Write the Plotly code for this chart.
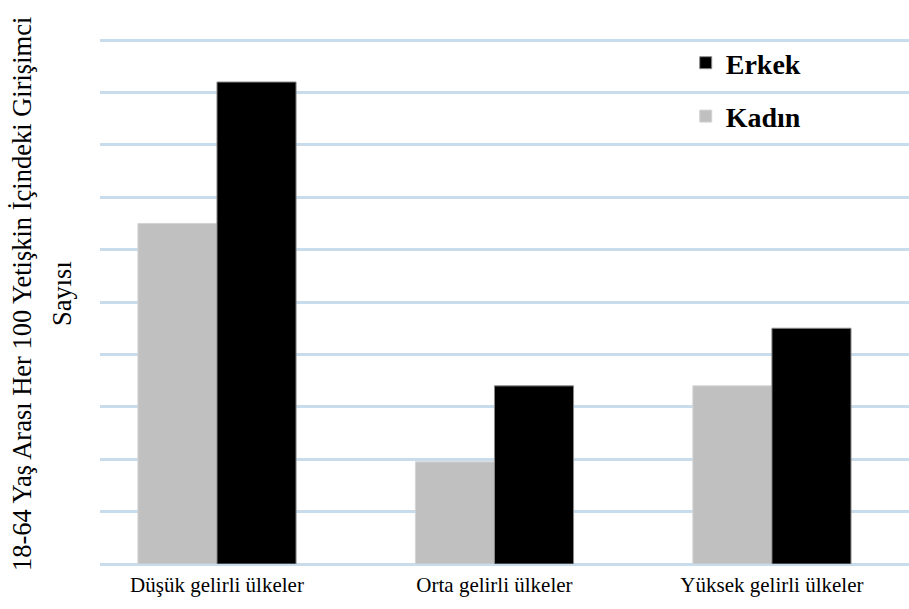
import plotly.graph_objects as go

categories = ["Düşük gelirli ülkeler", "Orta gelirli ülkeler", "Yüksek gelirli ülkeler"]
kadin = [6.5, 1.95, 3.4]
erkek = [9.2, 3.4, 4.5]
y_title_line1 = "18-64 Yaş Arası Her 100 Yetişkin İçindeki Girişimci"
y_title_line2 = "Sayısı"

SERIF = "Liberation Serif"
GRID = "#c8dcec"

fig = go.Figure()
fig.add_trace(go.Bar(
    x=categories, y=kadin, name="Kadın", legendgroup="k", legendrank=2,
    marker=dict(color="#c0c0c0", line=dict(color="#d4d4d4", width=1)),
))
fig.add_trace(go.Bar(
    x=categories, y=erkek, name="Erkek", legendgroup="e", legendrank=1,
    marker=dict(color="#000000", line=dict(color="#8a8a8a", width=1)),
))

fig.update_layout(
    width=909, height=609,
    margin=dict(l=100, r=0, t=38, b=45),
    paper_bgcolor="white", plot_bgcolor="white",
    barmode="group", bargap=0.43, bargroupgap=0,
    showlegend=True,
    legend=dict(
        x=0.724, y=1.0, xanchor="left", yanchor="top",
        traceorder="grouped", tracegroupgap=14,
        font=dict(family=SERIF, size=28, color="black", weight="bold"),
        bgcolor="rgba(0,0,0,0)",
    ),
    xaxis=dict(
        range=[-0.4216, 2.494], showgrid=False, zeroline=False, showline=False,
        ticks="", ticklabelstandoff=6,
        tickfont=dict(family=SERIF, size=21, color="black"),
    ),
    yaxis=dict(
        range=[0, 10.04], dtick=1, showgrid=True, gridcolor=GRID, gridwidth=3,
        zeroline=True, zerolinecolor=GRID, zerolinewidth=3,
        showticklabels=False, ticks="", showline=False,
    ),
    annotations=[
        dict(text=y_title_line1, textangle=-90, xref="paper", yref="paper",
             x=0, y=0.5, xanchor="center", yanchor="middle", xshift=-78, yshift=7,
             showarrow=False, font=dict(family=SERIF, size=26.5, color="black")),
        dict(text=y_title_line2, textangle=-90, xref="paper", yref="paper",
             x=0, y=0.5, xanchor="center", yanchor="middle", xshift=-38, yshift=7,
             showarrow=False, font=dict(family=SERIF, size=26.5, color="black")),
    ],
)

fig.write_html("out.html")
